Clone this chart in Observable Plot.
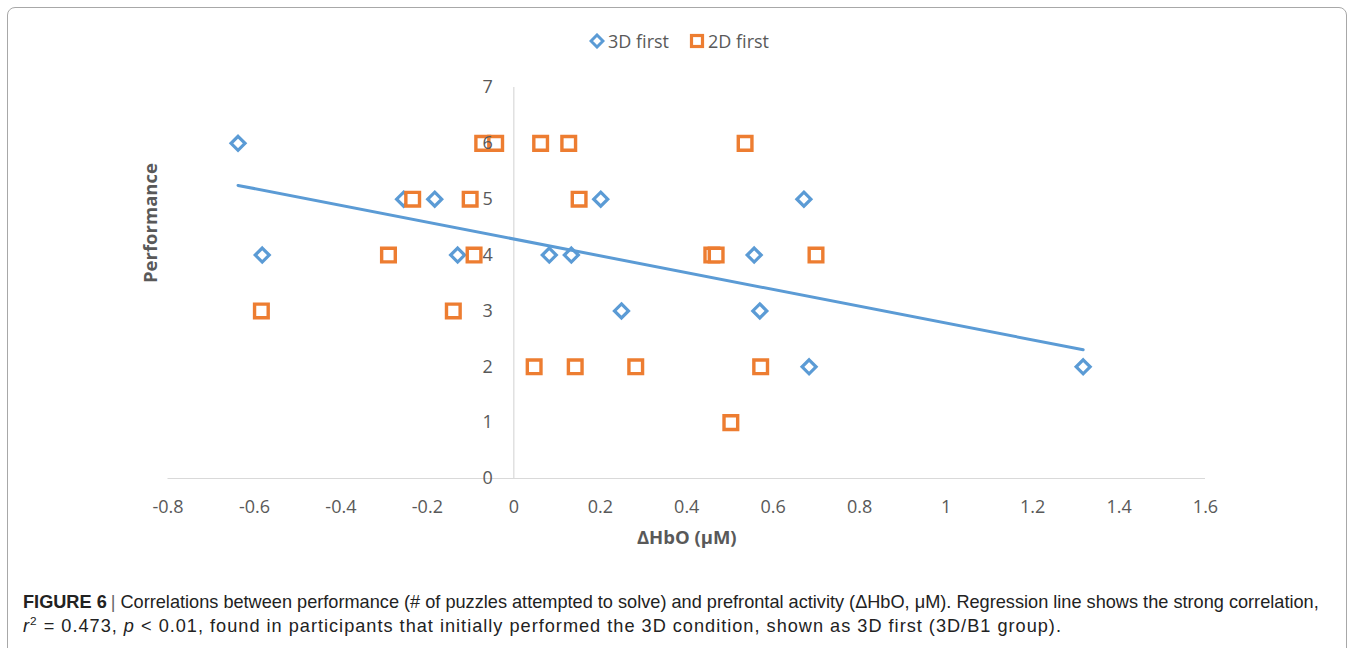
<!DOCTYPE html>
<html>
<head>
<meta charset="utf-8">
<script src="https://cdn.jsdelivr.net/npm/d3@7"></script>
<script src="https://cdn.jsdelivr.net/npm/@observablehq/plot@0.6"></script>
<style>
  html, body { margin: 0; padding: 0; background: #fff; }
  body { width: 1355px; height: 648px; position: relative; overflow: hidden; font-family: "Open Sans", sans-serif; }
  #frame { position: absolute; left: 7px; top: 7px; width: 1340px; height: 700px; border: 1px solid #a8a8a8; border-radius: 8px; box-sizing: border-box; }
  #legend { position: absolute; left: 0; top: 0; width: 1355px; height: 60px; display: flex; justify-content: center; align-items: center; padding-top: 21px; padding-left: 3px; box-sizing: border-box; font-size: 18px; color: #595959; }
  #legend .item { display: flex; align-items: center; margin: 0 10px; }
  #legend svg { margin-right: 3px; }
  #chart { position: absolute; left: 0; top: 60px; }
  #caption { position: absolute; left: 23px; top: 590px; white-space: nowrap; font-family: "Liberation Sans Narrow", "Arial Narrow", "Liberation Sans", sans-serif; font-size: 16px; line-height: 24px; color: #222; }
  #caption b { font-weight: bold; }
  #caption .sep { color: #666; margin: 0 5px 0 4px; }
</style>
</head>
<body>
<div id="frame"></div>
<div id="legend"></div>
<div id="chart"></div>
<div id="caption"><span id="cap1"><b>FIGURE 6</b><span class="sep">|</span>Correlations between performance (# of puzzles attempted to solve) and prefrontal activity (ΔHbO, μM). Regression line shows the strong correlation,</span><br><span id="cap2"><i>r</i><sup style="font-size:0.65em;line-height:0">2</sup> = 0.473, <i>p</i> &lt; 0.01, found in participants that initially performed the 3D condition, shown as 3D first (3D/B1 group).</span></div>
<script>
// ---- data ----
const seriesNames = ["3D first", "2D first"];
const seriesColors = ["#5B9BD5", "#ED7D31"];

const x3D = [-0.638, -0.582, -0.255, -0.183, -0.130, 0.082, 0.133, 0.201, 0.249, 0.556, 0.569, 0.671, 0.683, 1.317];
const y3D = [6, 4, 5, 5, 4, 4, 4, 5, 3, 4, 3, 5, 2, 2];

const x2D = [-0.584, -0.290, -0.234, -0.140, -0.101, -0.092, -0.072, -0.042, 0.047, 0.062, 0.127, 0.142, 0.151, 0.282, 0.458, 0.468, 0.502, 0.535, 0.571, 0.699];
const y2D = [3, 4, 5, 3, 5, 4, 6, 6, 2, 6, 6, 2, 5, 2, 4, 4, 1, 6, 2, 4];

const xTicks = [-0.8, -0.6, -0.4, -0.2, 0, 0.2, 0.4, 0.6, 0.8, 1, 1.2, 1.4, 1.6];
const yTicks = [0, 1, 2, 3, 4, 5, 6, 7];

const xTitle = "ΔHbO (μM)";
const yTitle = "Performance";

// ---- tables ----
const d3D = x3D.map((x, i) => ({x, y: y3D[i]}));
const d2D = x2D.map((x, i) => ({x, y: y2D[i]}));

const labelColor = "#595959";
const gridColor = "#d9d9d9";

const chart = Plot.plot({
  width: 1355,
  height: 500,
  marginLeft: 167.5,
  marginRight: 150,
  marginTop: 27,
  marginBottom: 82,
  x: {domain: [-0.8, 1.6], axis: null},
  y: {domain: [0, 7], axis: null},
  style: {fontFamily: "'Open Sans', sans-serif", fontSize: "18px", color: labelColor, background: "transparent"},
  marks: [
    Plot.ruleY([0], {stroke: gridColor, strokeWidth: 1.2}),
    Plot.ruleX([0], {y1: 0, y2: 7, stroke: gridColor, strokeWidth: 1.2}),
    Plot.text(xTicks, {x: d => d, y: 0, dy: 29, text: d => String(d), fill: labelColor, fontSize: 18}),
    Plot.dot(d3D, {x: "x", y: "y", symbol: "diamond2", r: 6.3, stroke: seriesColors[0], strokeWidth: 3.2, fill: "white"}),
    Plot.linearRegressionY(d3D, {x: "x", y: "y", stroke: seriesColors[0], strokeWidth: 3, ci: 0}),
    Plot.dot(d2D, {x: "x", y: "y", symbol: "square", r: 7.7, stroke: seriesColors[1], strokeWidth: 3.4, fill: "white"}),
    Plot.text(yTicks, {x: 0, y: d => d, dx: -21, textAnchor: "end", text: d => String(d), fill: labelColor, fontSize: 18}),
    Plot.text([yTitle], {frameAnchor: "left", dx: -16.5, rotate: -90, text: d => d, fontWeight: "bold", fill: labelColor, fontSize: 18.5}),
    Plot.text([xTitle], {frameAnchor: "bottom", dy: 65, text: d => d, fontWeight: "bold", fill: labelColor, fontSize: 18.5})
  ]
});
document.getElementById("chart").appendChild(chart);

// ---- legend ----
const legend = document.getElementById("legend");
seriesNames.forEach((name, i) => {
  const item = document.createElement("div");
  item.className = "item";
  const shape = i === 0
    ? `<svg width="16" height="16" viewBox="-8 -8 16 16"><path d="M0,-6L6,0L0,6L-6,0Z" fill="white" stroke="${seriesColors[0]}" stroke-width="3"/></svg>`
    : `<svg width="16" height="16" viewBox="-8 -8 16 16"><rect x="-5.5" y="-5.5" width="11" height="11" fill="white" stroke="${seriesColors[1]}" stroke-width="3.2"/></svg>`;
  item.innerHTML = shape + `<span>${name}</span>`;
  legend.appendChild(item);
});

// ---- fit caption lines to the reference widths ----
const cap = document.getElementById("caption");
const cap1 = document.getElementById("cap1");
const cap2 = document.getElementById("cap2");
const w1 = cap1.getBoundingClientRect().width;
if (w1 > 0) cap.style.fontSize = (16 * 1297 / w1).toFixed(2) + "px";
const w2 = cap2.getBoundingClientRect().width;
const n2 = cap2.textContent.length;
if (w2 > 0 && n2 > 0) cap2.style.letterSpacing = Math.max(0, (1039 - w2) / n2).toFixed(2) + "px";
</script>
</body>
</html>
